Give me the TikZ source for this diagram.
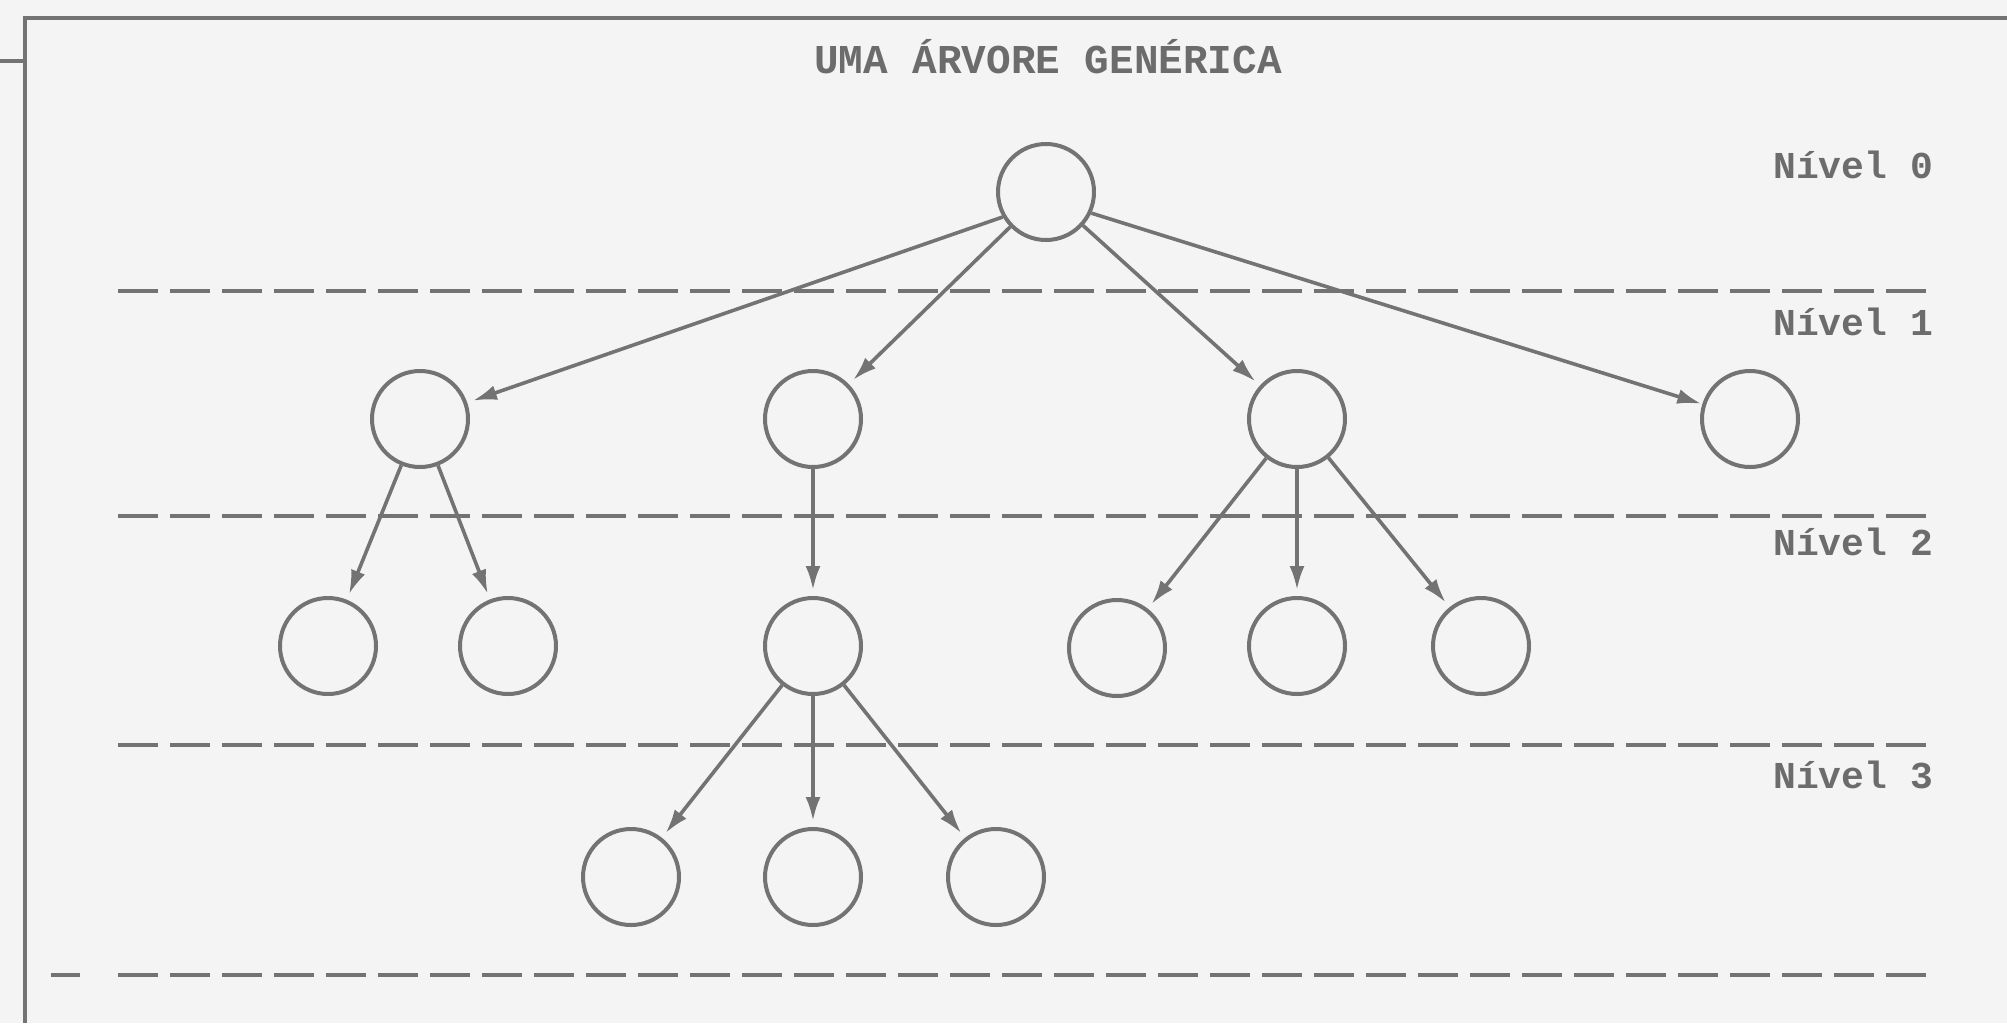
\documentclass[tikz,border=0pt]{standalone}
\usepackage{fontspec}
\setmonofont{Liberation Mono}
\usetikzlibrary{arrows.meta}
\definecolor{ink}{HTML}{737373}
\definecolor{txt}{HTML}{6C6C6C}
\definecolor{paper}{HTML}{F4F4F4}
\begin{document}
\begin{tikzpicture}[x=1pt,y=-1pt,
  tnode/.style={circle,draw=ink,line width=4pt,minimum size=96pt,inner sep=0pt},
  edge/.style={draw=ink,line width=3.6pt,-{Latex[length=24pt,width=15pt]},shorten >=6pt},
  levelline/.style={draw=ink,line width=4pt,dash pattern=on 40pt off 12pt},
  lbl/.style={text=txt,font=\ttfamily\bfseries\fontsize{38}{40}\selectfont,anchor=west,inner sep=0pt},
  ttl/.style={text=txt,font=\ttfamily\bfseries\fontsize{41}{44}\selectfont,inner sep=0pt},
  frame/.style={draw=ink,line width=4.5pt}]
\useasboundingbox (0,0) rectangle (2007,1023);
\fill[paper] (0,0) rectangle (2007,1023);
% frame
\coordinate (ftl) at (25,18);
\coordinate (ftr) at (2007,18);
\coordinate (fbl) at (25,1023);
\coordinate (fsl) at (0,61);
\coordinate (fsr) at (25,61);
\draw[frame] (ftr) -- (ftl) -- (fbl);
\draw[frame] (fsl) -- (fsr);
% title
\node[ttl] (title) at (1048,57) {UMA ÁRVORE GENÉRICA};
% level lines
\draw[levelline] (118,291) -- (1935,291);
\draw[levelline] (118,516) -- (1935,516);
\draw[levelline] (118,745) -- (1935,745);
\draw[levelline] (51,975) -- (80,975);
\draw[levelline] (118,975) -- (1935,975);
% level labels
\node[lbl] (n0) at (1773,165) {Nível 0};
\node[lbl] (n1) at (1773,322) {Nível 1};
\node[lbl] (n2) at (1773,542) {Nível 2};
\node[lbl] (n3) at (1773,775) {Nível 3};
% nodes
\node[tnode] (r) at (1046,192) {};
\node[tnode] (a) at (420,419) {};
\node[tnode] (b) at (813,419) {};
\node[tnode] (c) at (1297,419) {};
\node[tnode] (d) at (1750,419) {};
\node[tnode] (a1) at (328,646) {};
\node[tnode] (a2) at (508,646) {};
\node[tnode] (b1) at (813,646) {};
\node[tnode] (c1) at (1117,648) {};
\node[tnode] (c2) at (1297,646) {};
\node[tnode] (c3) at (1481,646) {};
\node[tnode] (b11) at (631,877) {};
\node[tnode] (b12) at (813,877) {};
\node[tnode] (b13) at (996,877) {};
% edges
\draw[edge] (r.210) -- (a);
\draw[edge] (r) -- (b);
\draw[edge] (r) -- (c);
\draw[edge,shorten >=1pt] (r.335) -- (d);
\draw[edge] (a) -- (a1);
\draw[edge] (a) -- (a2);
\draw[edge] (b) -- (b1);
\draw[edge] (c) -- (c1);
\draw[edge] (c) -- (c2);
\draw[edge] (c) -- (c3);
\draw[edge] (b1) -- (b11);
\draw[edge] (b1) -- (b12);
\draw[edge] (b1) -- (b13);
\end{tikzpicture}
\end{document}
